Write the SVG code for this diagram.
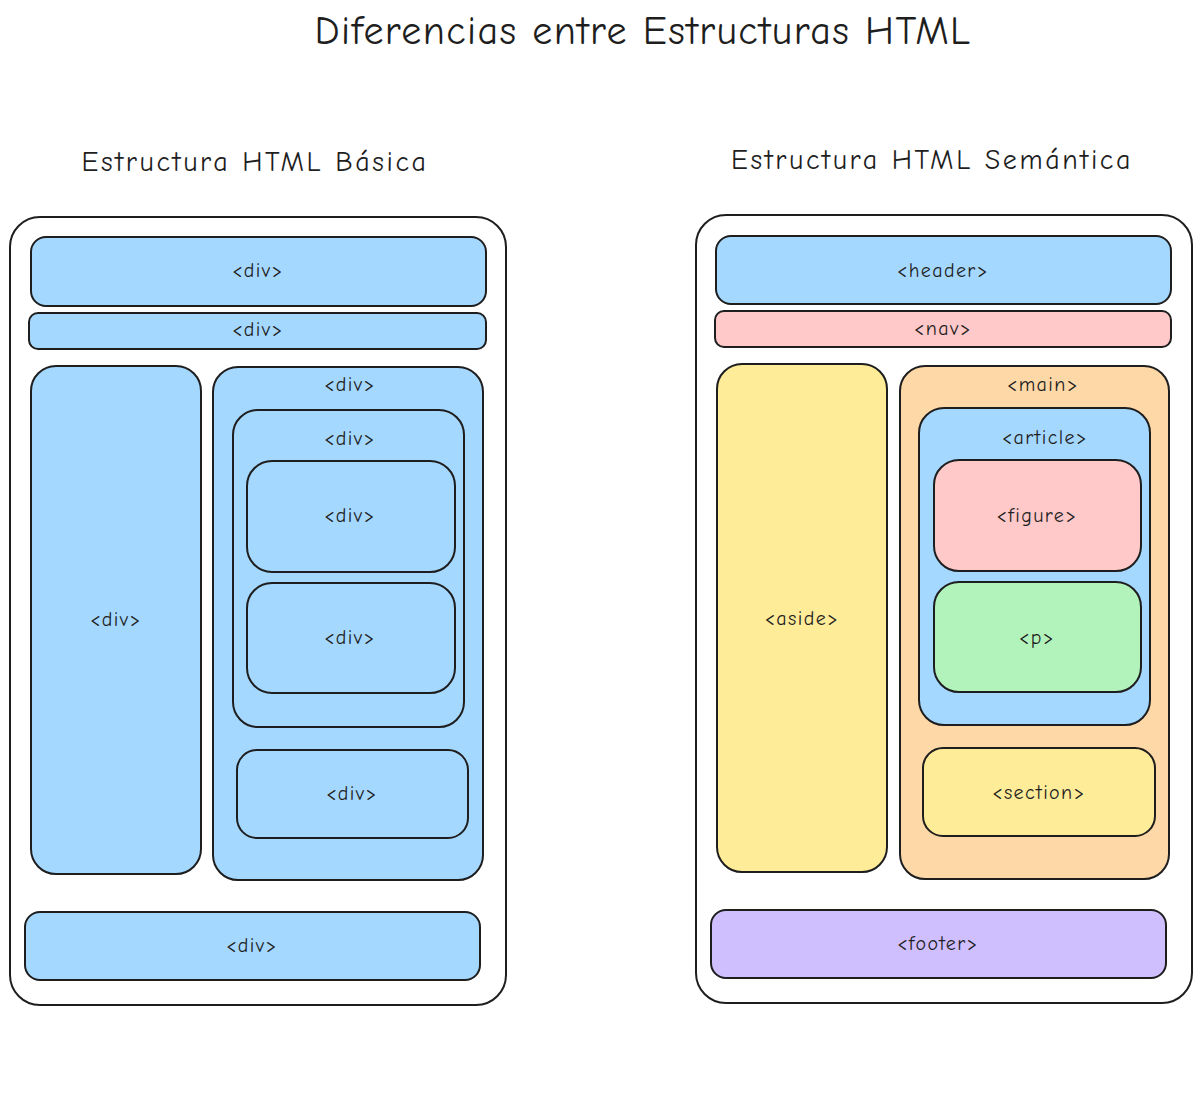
<svg xmlns="http://www.w3.org/2000/svg" width="1202" height="1095" viewBox="0 0 1202 1095">
<style>
rect{stroke:#1e1e1e;stroke-width:2}
.o{fill:#ffffff}
.b{fill:#a5d8ff}
.pk{fill:#ffc9c9}
.y{fill:#ffec99}
.or{fill:#ffd8a8}
.g{fill:#b2f2bb}
.pu{fill:#d0bfff}
text{font-family:"Comic Neue","Liberation Sans",sans-serif;fill:#1e1e1e;text-anchor:middle;dominant-baseline:central}
.l{font-size:20px;letter-spacing:1.4px}
.h{font-size:28px;letter-spacing:2.6px}
.t{font-size:40px;letter-spacing:1.4px}
</style>
<rect width="1202" height="1095" fill="#fff" style="stroke:none"/>
<text class="t" x="643" y="31">Diferencias entre Estructuras HTML</text>
<text class="h" x="255" y="162">Estructura HTML Básica</text>
<text class="h" x="932" y="160">Estructura HTML Semántica</text>

<g id="basic">
<g id="b-outer"><rect class="o" x="10" y="217" width="496" height="788" rx="30"/></g>
<g id="b-div1"><rect class="b" x="31" y="237" width="455" height="69" rx="15"/><text class="l" x="258" y="270">&lt;div&gt;</text></g>
<g id="b-div2"><rect class="b" x="29" y="313" width="457" height="36" rx="9"/><text class="l" x="258" y="329">&lt;div&gt;</text></g>
<g id="b-div3"><rect class="b" x="31" y="366" width="170" height="508" rx="25"/><text class="l" x="116" y="619">&lt;div&gt;</text></g>
<g id="b-div4"><rect class="b" x="213" y="367" width="270" height="513" rx="25"/><text class="l" x="350" y="384">&lt;div&gt;</text></g>
<g id="b-div5"><rect class="b" x="233" y="410" width="231" height="317" rx="25"/><text class="l" x="350" y="438">&lt;div&gt;</text></g>
<g id="b-div6"><rect class="b" x="247" y="461" width="208" height="111" rx="25"/><text class="l" x="350" y="515">&lt;div&gt;</text></g>
<g id="b-div7"><rect class="b" x="247" y="583" width="208" height="110" rx="25"/><text class="l" x="350" y="637">&lt;div&gt;</text></g>
<g id="b-div8"><rect class="b" x="237" y="750" width="231" height="88" rx="20"/><text class="l" x="352" y="793">&lt;div&gt;</text></g>
<g id="b-div9"><rect class="b" x="25" y="912" width="455" height="68" rx="15"/><text class="l" x="252" y="945">&lt;div&gt;</text></g>
</g>

<g id="semantic">
<g id="s-outer"><rect class="o" x="696" y="215" width="496" height="788" rx="30"/></g>
<g id="s-header"><rect class="b" x="716" y="236" width="455" height="68" rx="15"/><text class="l" x="943" y="270">&lt;header&gt;</text></g>
<g id="s-nav"><rect class="pk" x="715" y="311" width="456" height="36" rx="9"/><text class="l" x="943" y="328">&lt;nav&gt;</text></g>
<g id="s-aside"><rect class="y" x="717" y="364" width="170" height="508" rx="25"/><text class="l" x="802" y="618">&lt;aside&gt;</text></g>
<g id="s-main"><rect class="or" x="900" y="366" width="269" height="513" rx="25"/><text class="l" x="1043" y="384">&lt;main&gt;</text></g>
<g id="s-article"><rect class="b" x="919" y="408" width="231" height="317" rx="25"/><text class="l" x="1045" y="437">&lt;article&gt;</text></g>
<g id="s-figure"><rect class="pk" x="934" y="460" width="207" height="111" rx="25"/><text class="l" x="1037" y="515">&lt;figure&gt;</text></g>
<g id="s-p"><rect class="g" x="934" y="582" width="207" height="110" rx="25"/><text class="l" x="1037" y="637">&lt;p&gt;</text></g>
<g id="s-section"><rect class="y" x="923" y="748" width="232" height="88" rx="20"/><text class="l" x="1039" y="792">&lt;section&gt;</text></g>
<g id="s-footer"><rect class="pu" x="711" y="910" width="455" height="68" rx="15"/><text class="l" x="938" y="943">&lt;footer&gt;</text></g>
</g>
<g id="connectors"/>
</svg>
